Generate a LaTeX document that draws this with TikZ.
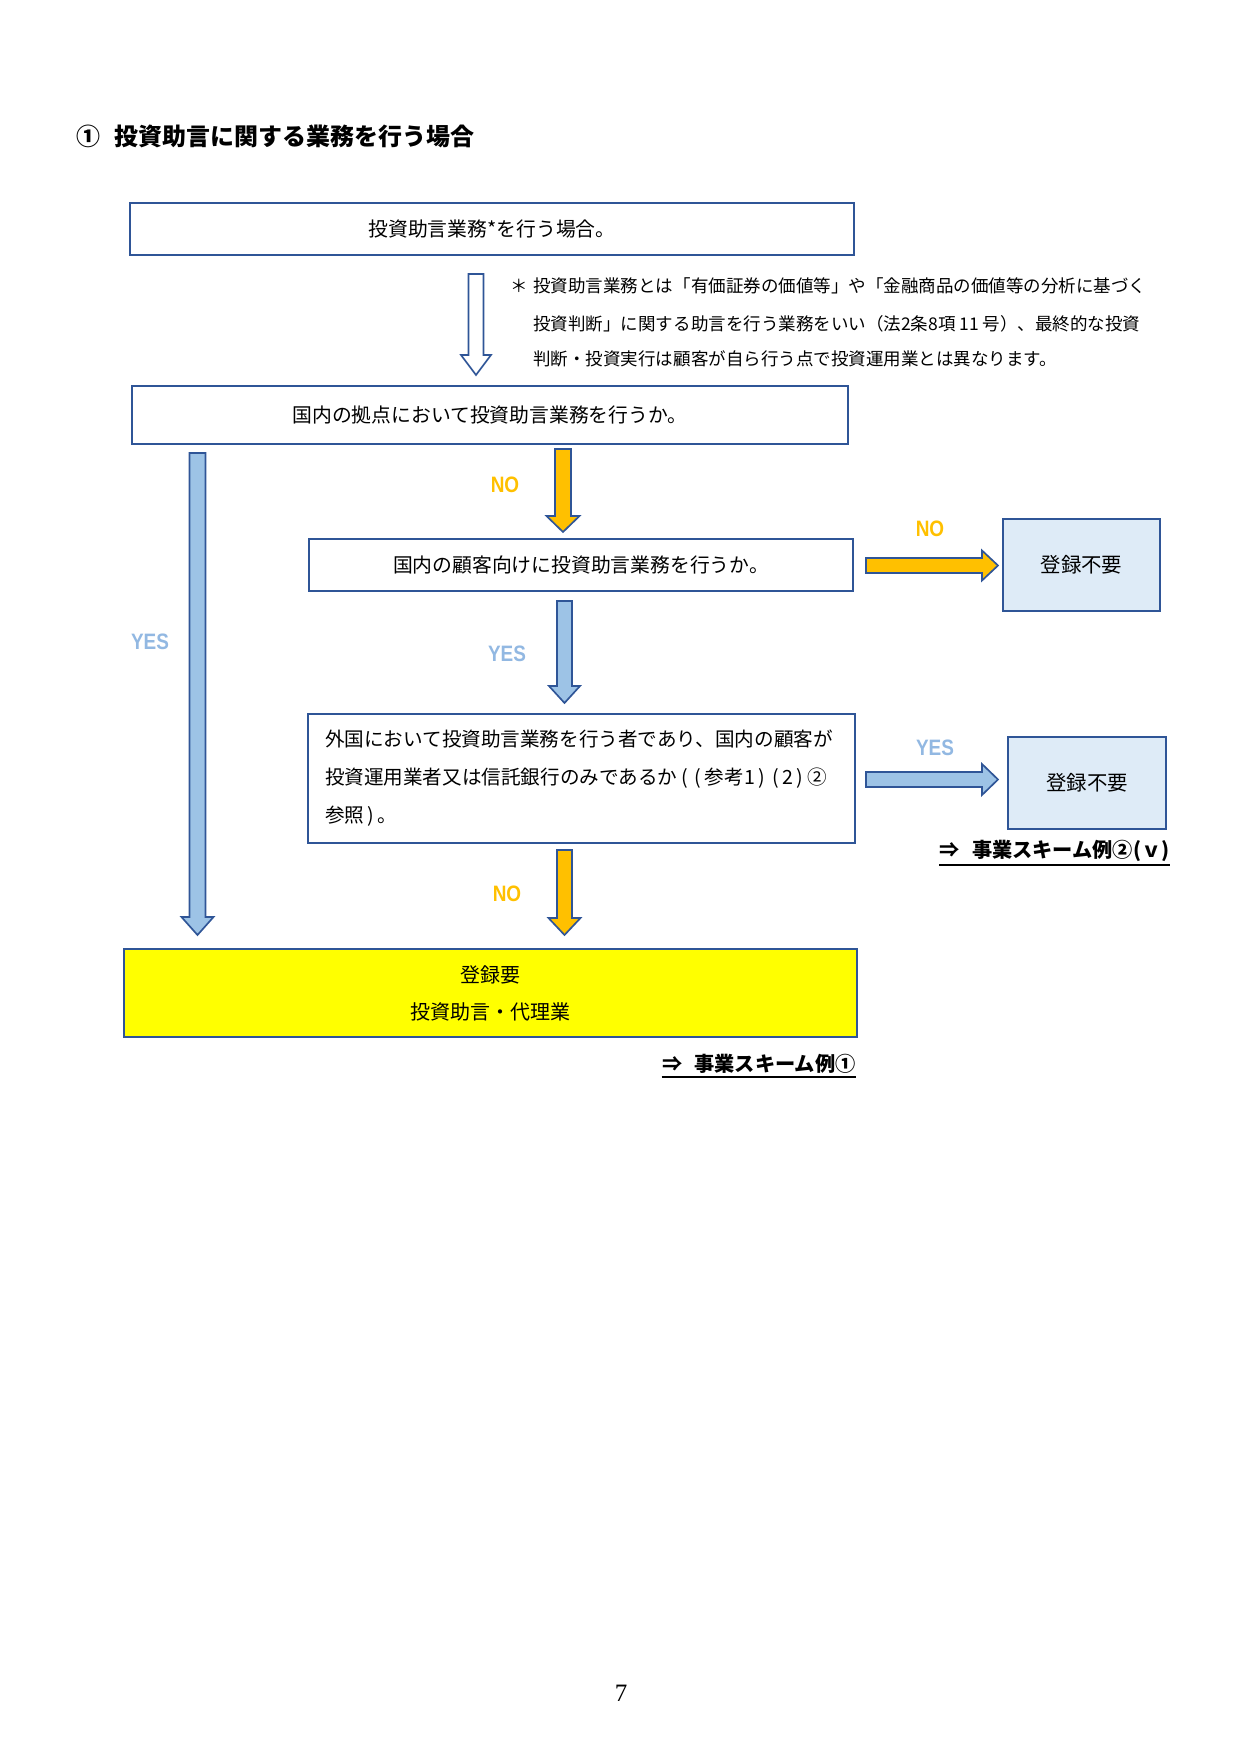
\documentclass[tikz,border=0pt]{standalone}
\usepackage{fontspec}
\setmainfont{Noto Sans CJK JP}
\newfontfamily\labfont[FakeStretch=0.85]{Liberation Sans}
\newfontfamily\pagefont{Liberation Serif}
\usetikzlibrary{calc}
\definecolor{bd}{HTML}{2F5597}
\definecolor{lb}{HTML}{9DC3E6}
\definecolor{lbf}{HTML}{DEEBF7}
\definecolor{org}{HTML}{FFC000}
\definecolor{yescol}{HTML}{92B8E2}
\definecolor{ylw}{HTML}{FFFF00}
\newcommand\blkdown[6]{\draw[#6] ($(#1)+(-#3,0)$) -- ($(#2)+(-#3,-#5)$) -- ($(#2)+(-#4,-#5)$) -- (#2) -- ($(#2)+(#4,-#5)$) -- ($(#2)+(#3,-#5)$) -- ($(#1)+(#3,0)$) -- cycle;}
\newcommand\blkright[6]{\draw[#6] ($(#1)+(0,-#3)$) -- ($(#2)+(-#5,-#3)$) -- ($(#2)+(-#5,-#4)$) -- (#2) -- ($(#2)+(-#5,#4)$) -- ($(#2)+(-#5,#3)$) -- ($(#1)+(0,#3)$) -- cycle;}
\newcommand\lpar{\kern1.7pt(\kern1.7pt}
\newcommand\rpar{\kern1.7pt)\kern1.7pt}
\begin{document}
\begin{tikzpicture}[x=0.4797pt,y=-0.4797pt,
  wh/.style 2 args={minimum width=#1*0.4797pt, minimum height=#2*0.4797pt},
  box/.style={draw=bd, line width=1.2pt, inner sep=0pt, font=\fontsize{9.5}{12}\selectfont},
  endbox/.style={box, fill=lbf, font=\fontsize{9.8}{12}\selectfont},
  arrw/.style={draw=bd, line width=0.8pt, line join=miter},
  yesarr/.style={arrw, fill=lb},
  noarr/.style={arrw, fill=org},
  hollow/.style={arrw, fill=white},
  yeslab/.style={text=yescol, font=\labfont\bfseries\fontsize{10.7}{12}\selectfont},
  nolab/.style={text=org, font=\labfont\bfseries\fontsize{10.7}{12}\selectfont},
  note/.style={anchor=west, inner sep=0pt, font=\fontsize{8.4}{10}\selectfont},
  linktext/.style={inner sep=0pt, font=\bfseries\fontsize{9.7}{12}\selectfont}
]
\useasboundingbox (0,0) rectangle (1241,1754);

\node[anchor=west, inner sep=0pt, font=\bfseries\fontsize{11.5}{14}\selectfont] (title) at (76,136) {①\hspace{0.6em}投資助言に関する業務を行う場合};

\node[box, wh={724}{52}] (b1) at (492,229) {投資助言業務*を行う場合。};
\node[box, wh={716}{58}] (b2) at (490,415) {国内の拠点において投資助言業務を行うか。};
\node[box, wh={544}{52}] (b3) at (581,565) {国内の顧客向けに投資助言業務を行うか。};
\node[endbox, wh={157}{92}] (r1) at (1081.5,565) {登録不要};
\node[box, wh={547}{129}, align=left, text width=513*0.4797pt, font=\fontsize{9.4}{18.2}\selectfont] (b4) at (581.5,778.5) {外国において投資助言業務を行う者であり、国内の顧客が\\投資運用業者又は信託銀行のみであるか\lpar\lpar 参考1\rpar\lpar 2\rpar ②\\参照\rpar 。};
\node[endbox, wh={158}{92}] (r2) at (1087,783) {登録不要};
\node[box, fill=ylw, wh={733}{88}, align=center, font=\fontsize{9.6}{17.7}\selectfont] (reg) at (490.5,993) {登録要\\投資助言・代理業};

% note
\node[note] (ast) at (510,285.4) {＊};
\node[note] (n1) at (533,285.4) {投資助言業務とは「有価証券の価値等」や「金融商品の価値等の分析に基づく};
\node[note] (n2) at (533,323.4) {投資判断」に関する助言を行う業務をいい（法2条8項 11 号）、最終的な投資};
\node[note] (n3) at (533,359.2) {判断・投資実行は顧客が自ら行う点で投資運用業とは異なります。};

% arrow end points
\coordinate (a1s) at (476,274);  \coordinate (a1e) at (476,375);
\coordinate (ays) at (197.5,453); \coordinate (aye) at (197.5,935);
\coordinate (an1s) at (563,449); \coordinate (an1e) at (563,532);
\coordinate (ay2s) at (564.5,601); \coordinate (ay2e) at (564.5,703);
\coordinate (an3s) at (564.5,850); \coordinate (an3e) at (564.5,935);
\coordinate (anrs) at (866,565.5); \coordinate (anre) at (998,565.5);
\coordinate (ayrs) at (866,779.5); \coordinate (ayre) at (998,779.5);

\blkdown{a1s}{a1e}{7.5}{15}{20}{hollow}
\blkdown{ays}{aye}{8}{16}{18}{yesarr}
\blkdown{an1s}{an1e}{8}{16.5}{16}{noarr}
\blkdown{ay2s}{ay2e}{7.5}{15.5}{17}{yesarr}
\blkdown{an3s}{an3e}{7.5}{16}{17}{noarr}
\blkright{anrs}{anre}{7.5}{15}{16}{noarr}
\blkright{ayrs}{ayre}{7.5}{15.5}{16}{yesarr}

% labels
\node[yeslab] (ly1) at (150,642) {YES};
\node[nolab] (ln1) at (505,485) {NO};
\node[nolab] (ln2) at (930,529) {NO};
\node[yeslab] (ly2) at (507,654) {YES};
\node[yeslab] (ly3) at (935,748) {YES};
\node[nolab] (ln3) at (507,894) {NO};

% links
\node[linktext, anchor=east] (lk2) at (1170,851) {⇒\hspace{0.6em}事業スキーム例②(ｖ)};
\draw[line width=0.9pt] ($(lk2.south west)+(0,3)$) -- ($(lk2.south east)+(0,3)$);
\node[linktext, anchor=east] (lk1) at (856,1064) {⇒\hspace{0.6em}事業スキーム例①};
\draw[line width=0.9pt] ($(lk1.south west)+(0,3)$) -- ($(lk1.south east)+(0,3)$);

\node[inner sep=0pt, font=\pagefont\fontsize{12}{14}\selectfont] (pg) at (621,1693) {7};
\end{tikzpicture}
\end{document}
